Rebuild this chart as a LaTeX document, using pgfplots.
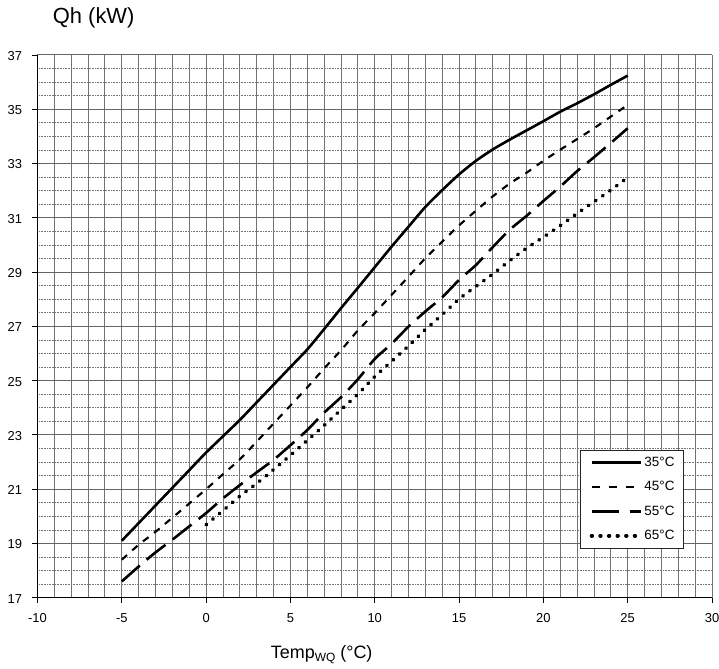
\documentclass[border=0pt]{standalone}
\usepackage{fontspec}
\setmainfont{Liberation Sans}
\usepackage{pgfplots}
\pgfplotsset{compat=1.18}

% heating capacity vs. source temperature, four flow temperatures
\begin{document}
\begin{tikzpicture}
\path[use as bounding box] (-37.5bp,-71.3bp) rectangle (681.5bp,597.7bp);
\begin{axis}[
	name=ax, at={(0,0)}, anchor=south west,
	scale only axis, width=674.5bp, height=542.7bp,
	xmin=-10, xmax=30, ymin=17, ymax=37,
	xtick={-10,-5,...,30}, ytick={17,19,...,37},
	minor x tick num=4, minor y tick num=3,
	grid=both,
	major x grid style={black!55, line width=0.9bp},
	minor x grid style={black!55, line width=0.9bp},
	major y grid style={black!60, line width=1bp},
	minor y grid style={black!55, line width=0.7bp, dash pattern=on 1bp off 0.6bp},
	axis x line*=bottom, axis y line*=left,
	axis line style={black, line width=0.9bp},
	tick style={black, line width=0.8bp},
	major tick length=5bp, minor tick length=0bp,
	tick align=outside,
	ticklabel style={font=\fontsize{13}{15}\selectfont},
	yticklabel style={xshift=-7bp, yshift=-1bp},
	xticklabel style={yshift=-7bp},
	/pgf/number format/assume math mode=true,
	legend style={at={(0.9575,0.091)}, anchor=south east, draw=black!85,
		fill=white, font=\fontsize{13.5}{16}\selectfont,
		row sep=9.5bp, inner xsep=6.6bp, inner ysep=5bp, cells={anchor=west}},
	legend image code/.code={\path (-2.6bp,0bp); \draw[#1] (0bp,0bp) -- (49bp,0bp);},
]

\addplot[black, line width=2.6bp, smooth, tension=0.4,
	legend image post style={line width=3bp}] coordinates {
(-5,19.1) (-4,19.75) (-3,20.4) (-2,21.05) (-1,21.7) (0,22.35) (1,22.95) (2,23.55)
(3,24.2) (4,24.85) (5,25.5) (6,26.15) (7,26.9) (8,27.67) (9,28.42) (10,29.18)
(11,29.94) (12,30.67) (13,31.4) (14,32.02) (15,32.6) (16,33.1) (17,33.52) (18,33.88)
(19,34.22) (20,34.56) (21,34.91) (22,35.22) (23,35.55) (24,35.9) (25,36.24)
};
\addplot[black, line width=2.1bp, smooth, tension=0.4, dash pattern=on 7bp off 7bp,
	legend image post style={line width=2.5bp, dash pattern=on 8bp off 9bp}] coordinates {
(-5,18.4) (-4,18.95) (-3,19.43) (-2,19.95) (-1,20.47) (0,21.0) (1,21.55) (2,22.1)
(3,22.75) (4,23.42) (5,24.08) (6,24.75) (7,25.45) (8,26.12) (9,26.85) (10,27.49)
(11,28.16) (12,28.83) (13,29.51) (14,30.12) (15,30.72) (16,31.26) (17,31.79) (18,32.26)
(19,32.66) (20,33.1) (21,33.51) (22,33.9) (23,34.3) (24,34.73) (25,35.16)
};
\addplot[black, line width=2.6bp, smooth, tension=0.4, dash pattern=on 24bp off 9bp,
	legend image post style={line width=3bp, dash pattern=on 27bp off 11bp}] coordinates {
(-5,17.6) (-4,18.15) (-3,18.67) (-2,19.14) (-1,19.63) (0,20.12) (1,20.66) (2,21.15)
(3,21.62) (4,22.08) (5,22.62) (6,23.18) (7,23.82) (8,24.39) (9,25.05) (10,25.8)
(11,26.36) (12,26.99) (13,27.55) (14,28.07) (15,28.71) (16,29.26) (17,29.92) (18,30.56)
(19,31.07) (20,31.62) (21,32.15) (22,32.72) (23,33.23) (24,33.76) (25,34.3)
};
\addplot[black, line width=3.8bp, line cap=round, smooth, tension=0.4,
	dash pattern=on 0.6bp off 8bp,
	legend image post style={line width=3.8bp, line cap=round, dash pattern=on 0.6bp off 8bp}] coordinates {
(0,19.69) (1,20.21) (2,20.74) (3,21.21) (4,21.72) (5,22.25) (6,22.8) (7,23.35)
(8,23.93) (9,24.5) (10,25.15) (11,25.71) (12,26.28) (13,26.88) (14,27.43) (15,28.01)
(16,28.47) (17,28.93) (18,29.42) (19,29.88) (20,30.29) (21,30.71) (22,31.16) (23,31.59)
(24,32.02) (25,32.49)
};
\legend{35°C, 45°C, 55°C, 65°C}
\end{axis}

\node[anchor=base west, inner sep=0, font=\fontsize{22}{25}\selectfont]
	at ([xshift=15.2bp, yshift=31bp]ax.north west) {Qh (kW)};
\node[anchor=base, inner sep=0, font=\fontsize{18}{20}\selectfont]
	at ([xshift=284.2bp, yshift=-60.6bp]ax.south west)
	{Temp\raisebox{-3.5bp}{\fontsize{12}{12}\selectfont WQ} (°C)};
\end{tikzpicture}
\end{document}
